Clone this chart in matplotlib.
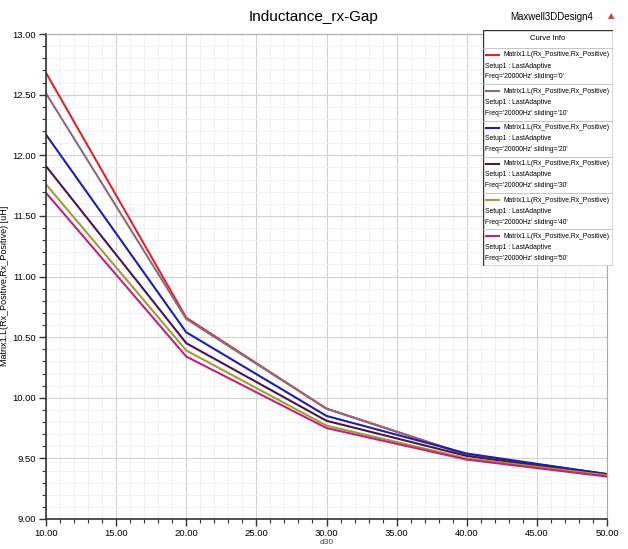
import matplotlib
matplotlib.use("Agg")
import matplotlib.pyplot as plt
from matplotlib.lines import Line2D
from matplotlib.patches import Rectangle
from matplotlib.ticker import MultipleLocator, FormatStrFormatter

plt.rcParams['font.family'] = ['Liberation Sans', 'DejaVu Sans']

x_vals = [10, 20, 30, 40, 50]
sliding = ['0', '10', '20', '30', '40', '50']
series = {
    '0':  [12.68, 10.66, 9.91, 9.53, 9.37],
    '10': [12.51, 10.65, 9.91, 9.53, 9.37],
    '20': [12.17, 10.54, 9.85, 9.54, 9.37],
    '30': [11.91, 10.45, 9.81, 9.52, 9.36],
    '40': [11.76, 10.39, 9.77, 9.50, 9.36],
    '50': [11.69, 10.34, 9.75, 9.49, 9.35],
}
colors = ['#e0242a', '#8f6a7c', '#1c1fb0', '#4a1450', '#9aa032', '#c4207e']

title = 'Inductance_rx-Gap'
design = 'Maxwell3DDesign4'
ylabel = 'Matrix1.L(Rx_Positive,Rx_Positive) [uH]'
xlabel = 'd30'
curve_name = 'Matrix1.L(Rx_Positive,Rx_Positive)'
setup_name = 'Setup1 : LastAdaptive'

fig = plt.figure(figsize=(6.28, 5.49), dpi=100)
ax = fig.add_axes([46/628, 1-519/549, (607-46)/628, (519-34)/549])

for s, c in zip(sliding, colors):
    ax.plot(x_vals, series[s], color=c, lw=1.5)

ax.set_xlim(10, 50)
ax.set_ylim(9.0, 13.0)
ax.xaxis.set_major_locator(MultipleLocator(5))
ax.xaxis.set_minor_locator(MultipleLocator(1))
ax.yaxis.set_major_locator(MultipleLocator(0.5))
ax.yaxis.set_minor_locator(MultipleLocator(0.1))
ax.xaxis.set_major_formatter(FormatStrFormatter('%.2f'))
ax.yaxis.set_major_formatter(FormatStrFormatter('%.2f'))
ax.grid(which='major', color='#d2d2d2', lw=0.8)
ax.grid(which='minor', color='#efefef', lw=0.6)
ax.set_axisbelow(True)
ax.tick_params(which='major', length=5, width=1, labelsize=6.8, color='#333333', pad=2)
ax.tick_params(which='minor', length=3, width=0.8, color='#333333')
for sp in ['top', 'right']:
    ax.spines[sp].set_color('#aaaaaa')
    ax.spines[sp].set_linewidth(0.8)
for sp in ['left', 'bottom']:
    ax.spines[sp].set_color('#333333')
    ax.spines[sp].set_linewidth(1.2)
ax.set_xlabel(xlabel, fontsize=6, labelpad=1, color='#444444')
ax.set_ylabel(ylabel, fontsize=6.5)
ax.yaxis.set_label_coords(-0.066, 0.48)

fig.text(0.5, 1-17/549, title, fontsize=11, ha='center', va='center')
fig.text(0.945, 1-17/549, design, fontsize=7, ha='right', va='center')
fig.text(0.974, 1-16/549, '\u25B2', fontsize=6, ha='center', va='center', color='#d04040',
         family=['DejaVu Sans'])

# Curve info box
L, R, T, B = 483/628, 613/628, 1-30/549, 1-266/549
lax = fig.add_axes([L, B, R-L, T-B])
lax.set_xlim(0, 130)
lax.set_ylim(236, 0)
lax.axis('off')
lax.add_patch(Rectangle((0, 0), 130, 236, facecolor='white', edgecolor='#333333', lw=1.0))
lax.text(65, 9, 'Curve Info', fontsize=5.5, ha='center', va='center')
lax.plot([0, 130], [18, 18], color='#bbbbbb', lw=0.6)
h = 36.3
for i, (s, c) in enumerate(zip(sliding, colors)):
    y0 = 18 + i*h
    lax.add_line(Line2D([3, 16], [y0+7, y0+7], color=c, lw=1.5))
    lax.text(20, y0+7, curve_name, fontsize=4.9, va='center', ha='left')
    lax.text(2, y0+18, setup_name, fontsize=4.9, va='center', ha='left')
    lax.text(2, y0+29, "Freq='20000Hz' sliding='%s'" % s, fontsize=4.9, va='center', ha='left')
    if i < len(sliding) - 1:
        lax.plot([0, 130], [y0+h, y0+h], color='#bbbbbb', lw=0.6)

fig.savefig('out.png', dpi=100)
